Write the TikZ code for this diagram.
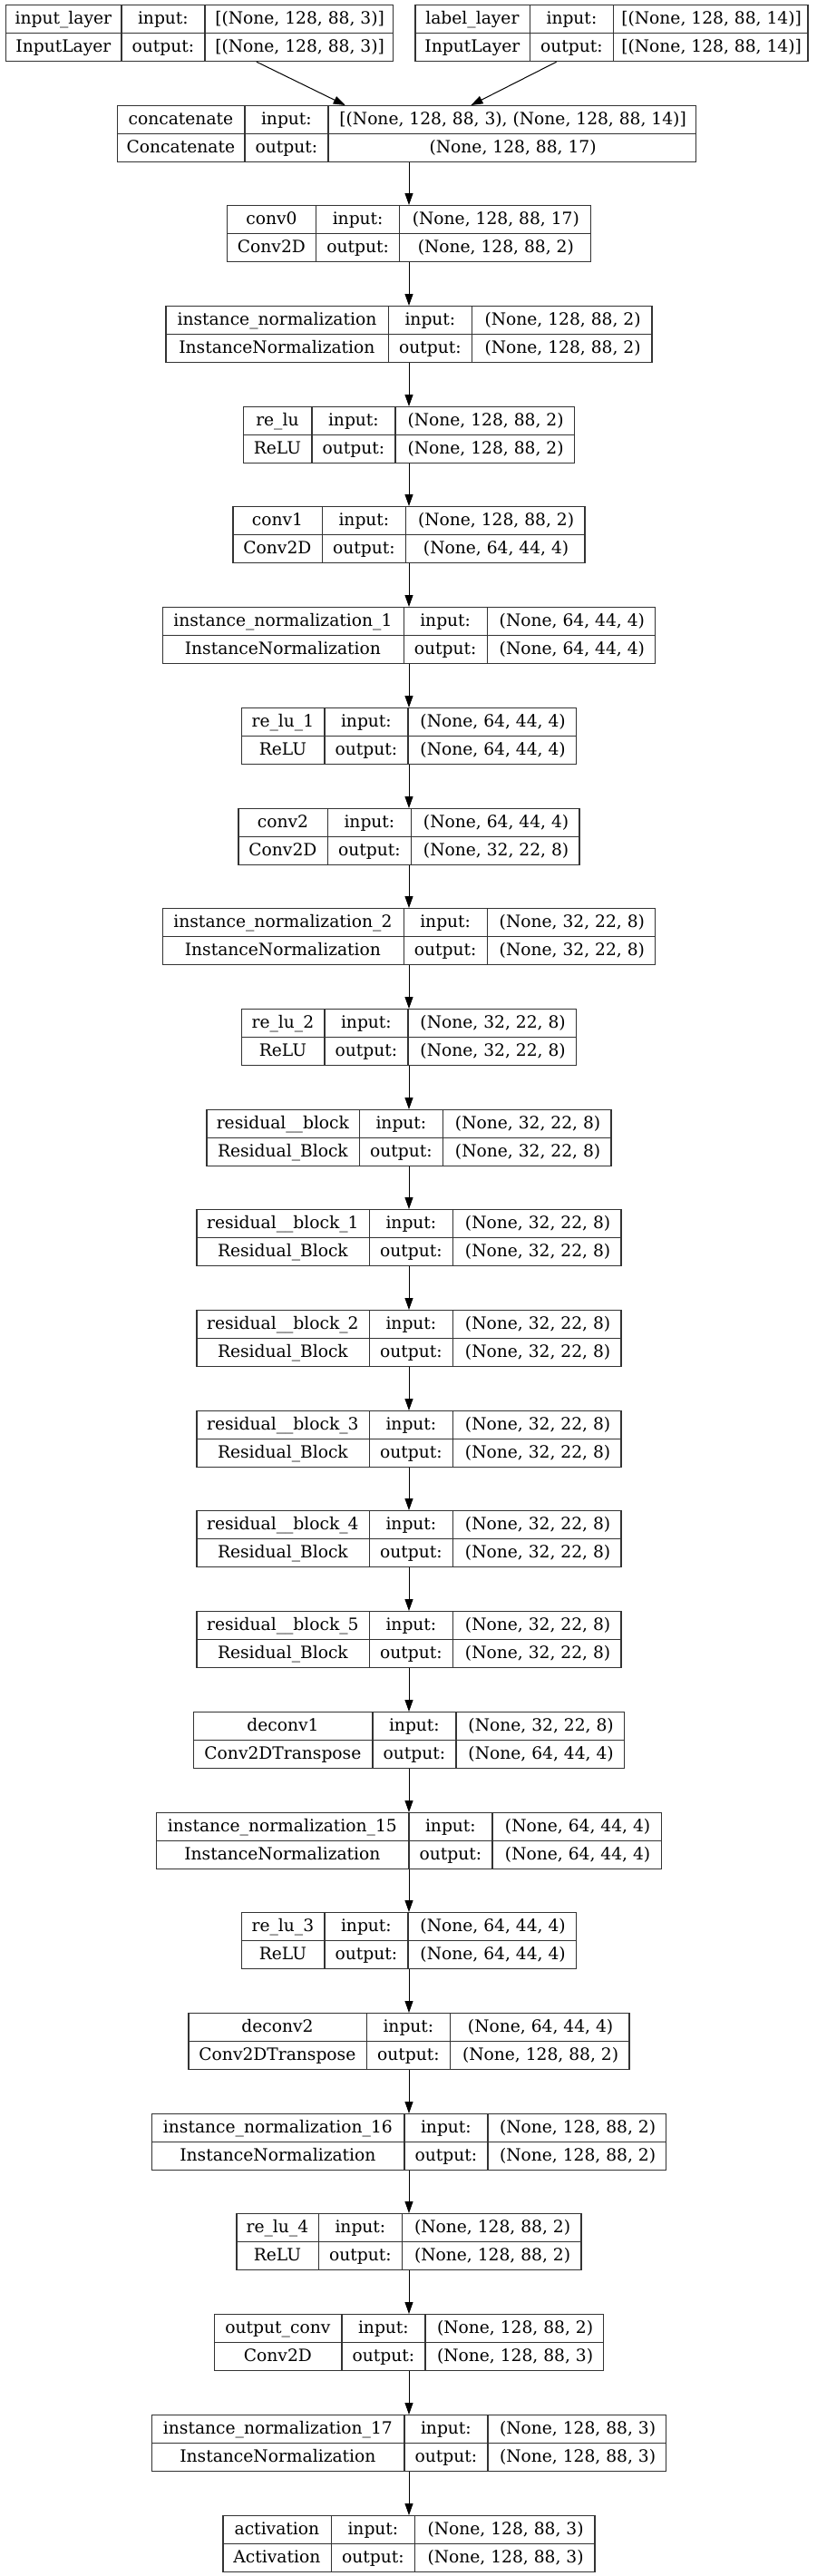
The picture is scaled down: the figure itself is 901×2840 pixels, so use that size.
\documentclass[tikz,border=0pt]{standalone}
\usepackage{fontspec}
\setmainfont{DejaVu Serif}
\usetikzlibrary{arrows.meta,calc}

% one keras layer: name, x, top, width of first and last column, layer, class, input, output
\newcommand{\klayer}[9]{%
  \pgfmathsetmacro{\lyrw}{#4+92+#5}
  \node[lyrbox,minimum width=\lyrw,anchor=north] (#1) at (#2,-#3) {};
  \draw[grid] (#1.west) -- (#1.east);
  \draw[grid] ($(#1.north west)+(#4,0)$) -- ($(#1.south west)+(#4,0)$);
  \draw[grid] ($(#1.north west)+(#4+92,0)$) -- ($(#1.south west)+(#4+92,0)$);
  \node[txt] (#1-n) at ($(#1.north west)+(#4/2,-21.5)$) {#6};
  \node[txt] (#1-c) at ($(#1.north west)+(#4/2,-52.5)$) {#7};
  \node[txt] (#1-i) at ($(#1.north west)+(#4+46,-21.5)$) {input:};
  \node[txt] (#1-o) at ($(#1.north west)+(#4+46,-52.5)$) {output:};
  \node[txt] (#1-ti) at ($(#1.north east)+(-#5/2,-21.5)$) {#8};
  \node[txt] (#1-to) at ($(#1.north east)+(-#5/2,-52.5)$) {#9};
}

\begin{document}
\begin{tikzpicture}[
   x=1pt, y=1pt, font=\fontsize{18.67pt}{22pt}\selectfont,
   lyrbox/.style={draw=black!80,line width=1.2pt,minimum height=62,inner sep=0pt},
   grid/.style={draw=black!80,line width=1.2pt},
   txt/.style={anchor=base,inner sep=0pt},
   arr/.style={-{Triangle[length=13pt,width=9pt]},line width=1pt}]
  \useasboundingbox[fill=white] (0,0) rectangle (901,-2840);
  \klayer{inlayer}{220}{5}{128}{207}{input\_layer}{InputLayer}{[(None, 128, 88, 3)]}{[(None, 128, 88, 3)]}
  \klayer{lbllayer}{674.5}{5}{127}{214}{label\_layer}{InputLayer}{[(None, 128, 88, 14)]}{[(None, 128, 88, 14)]}
  \klayer{concat}{448.5}{116}{141}{405}{concatenate}{Concatenate}{[(None, 128, 88, 3), (None, 128, 88, 14)]}{(None, 128, 88, 17)}
  \klayer{conv0}{451}{226}{98.5}{210}{conv0}{Conv2D}{(None, 128, 88, 17)}{(None, 128, 88, 2)}
  \klayer{innorm}{451}{337}{246}{198}{instance\_normalization}{InstanceNormalization}{(None, 128, 88, 2)}{(None, 128, 88, 2)}
  \klayer{relu}{451}{448}{76}{197}{re\_lu}{ReLU}{(None, 128, 88, 2)}{(None, 128, 88, 2)}
  \klayer{conv1}{451}{558}{99}{197}{conv1}{Conv2D}{(None, 128, 88, 2)}{(None, 64, 44, 4)}
  \klayer{innorm1}{451}{669}{266.5}{185}{instance\_normalization\_1}{InstanceNormalization}{(None, 64, 44, 4)}{(None, 64, 44, 4)}
  \klayer{relu1}{451}{780}{92}{185}{re\_lu\_1}{ReLU}{(None, 64, 44, 4)}{(None, 64, 44, 4)}
  \klayer{conv2}{451}{891}{99}{185}{conv2}{Conv2D}{(None, 64, 44, 4)}{(None, 32, 22, 8)}
  \klayer{innorm2}{451}{1001}{266.5}{185}{instance\_normalization\_2}{InstanceNormalization}{(None, 32, 22, 8)}{(None, 32, 22, 8)}
  \klayer{relu2}{451}{1112}{92}{185}{re\_lu\_2}{ReLU}{(None, 32, 22, 8)}{(None, 32, 22, 8)}
  \klayer{resb}{451}{1223}{169}{185}{residual\_\_block}{Residual\_Block}{(None, 32, 22, 8)}{(None, 32, 22, 8)}
  \klayer{resb1}{451}{1333}{191}{185}{residual\_\_block\_1}{Residual\_Block}{(None, 32, 22, 8)}{(None, 32, 22, 8)}
  \klayer{resb2}{451}{1444}{191}{185}{residual\_\_block\_2}{Residual\_Block}{(None, 32, 22, 8)}{(None, 32, 22, 8)}
  \klayer{resb3}{451}{1555}{191}{185}{residual\_\_block\_3}{Residual\_Block}{(None, 32, 22, 8)}{(None, 32, 22, 8)}
  \klayer{resb4}{451}{1665}{191}{185}{residual\_\_block\_4}{Residual\_Block}{(None, 32, 22, 8)}{(None, 32, 22, 8)}
  \klayer{resb5}{451}{1776}{191}{185}{residual\_\_block\_5}{Residual\_Block}{(None, 32, 22, 8)}{(None, 32, 22, 8)}
  \klayer{deconv1}{451}{1887}{198}{185}{deconv1}{Conv2DTranspose}{(None, 32, 22, 8)}{(None, 64, 44, 4)}
  \klayer{innorm15}{451}{1998}{279}{186}{instance\_normalization\_15}{InstanceNormalization}{(None, 64, 44, 4)}{(None, 64, 44, 4)}
  \klayer{relu3}{451}{2108}{92}{185}{re\_lu\_3}{ReLU}{(None, 64, 44, 4)}{(None, 64, 44, 4)}
  \klayer{deconv2}{451}{2219}{197}{197}{deconv2}{Conv2DTranspose}{(None, 64, 44, 4)}{(None, 128, 88, 2)}
  \klayer{innorm16}{451}{2330}{279}{196}{instance\_normalization\_16}{InstanceNormalization}{(None, 128, 88, 2)}{(None, 128, 88, 2)}
  \klayer{relu4}{451}{2440}{91}{197}{re\_lu\_4}{ReLU}{(None, 128, 88, 2)}{(None, 128, 88, 2)}
  \klayer{outconv}{451}{2551}{141}{196}{output\_conv}{Conv2D}{(None, 128, 88, 2)}{(None, 128, 88, 3)}
  \klayer{innorm17}{451}{2662}{279}{196}{instance\_normalization\_17}{InstanceNormalization}{(None, 128, 88, 3)}{(None, 128, 88, 3)}
  \klayer{actv}{451}{2773}{120}{198}{activation}{Activation}{(None, 128, 88, 3)}{(None, 128, 88, 3)}
  % connectors
  \draw[arr] ($(inlayer.south west)!0.647!(inlayer.south east)$) -- ($(concat.north west)!0.394!(concat.north east)$);
  \draw[arr] ($(lbllayer.south west)!0.36!(lbllayer.south east)$) -- ($(concat.north west)!0.611!(concat.north east)$);
  \draw[arr] (conv0.north |- concat.south) -- (conv0);
  \draw[arr] (conv0) -- (innorm);
  \draw[arr] (innorm) -- (relu);
  \draw[arr] (relu) -- (conv1);
  \draw[arr] (conv1) -- (innorm1);
  \draw[arr] (innorm1) -- (relu1);
  \draw[arr] (relu1) -- (conv2);
  \draw[arr] (conv2) -- (innorm2);
  \draw[arr] (innorm2) -- (relu2);
  \draw[arr] (relu2) -- (resb);
  \draw[arr] (resb) -- (resb1);
  \draw[arr] (resb1) -- (resb2);
  \draw[arr] (resb2) -- (resb3);
  \draw[arr] (resb3) -- (resb4);
  \draw[arr] (resb4) -- (resb5);
  \draw[arr] (resb5) -- (deconv1);
  \draw[arr] (deconv1) -- (innorm15);
  \draw[arr] (innorm15) -- (relu3);
  \draw[arr] (relu3) -- (deconv2);
  \draw[arr] (deconv2) -- (innorm16);
  \draw[arr] (innorm16) -- (relu4);
  \draw[arr] (relu4) -- (outconv);
  \draw[arr] (outconv) -- (innorm17);
  \draw[arr] (innorm17) -- (actv);
\end{tikzpicture}
\end{document}
